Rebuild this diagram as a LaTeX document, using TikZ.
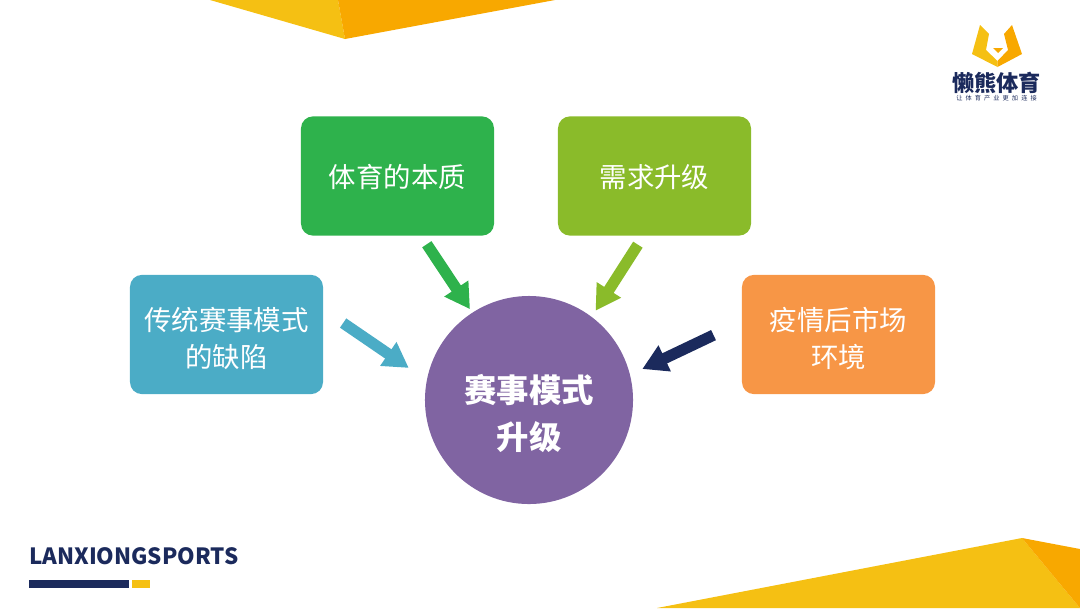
\documentclass[tikz,border=0pt]{standalone}
\usepackage{fontspec}
\setmainfont{Noto Sans CJK SC}
\usetikzlibrary{arrows.meta}
\definecolor{navyc}{HTML}{1B2A5C}
\definecolor{yellowc}{HTML}{F5C013}
\definecolor{amberc}{HTML}{F8A800}
\definecolor{greenc}{HTML}{2EB24C}
\definecolor{olivec}{HTML}{8ABB2A}
\definecolor{bluec}{HTML}{4BACC6}
\definecolor{orangec}{HTML}{F79646}
\definecolor{purplec}{HTML}{8064A2}
\tikzset{
  topicbox/.style={rounded corners=0.3cm,minimum width=4.825cm,minimum height=2.98cm,
    text width=4.4cm,align=center,text=white,font=\fontsize{19.5}{26.3}\selectfont},
  flowarrow/.style={line width=0.28cm,-{Triangle[length=0.62cm,width=0.68cm]}},
}
\begin{document}
\begin{tikzpicture}[x=0.025cm,y=-0.025cm]
\useasboundingbox (0,0) rectangle (1080,608);
% corner shapes
\fill[yellowc] (210,0) -- (345,39) -- (338,0) -- cycle;
\fill[amberc] (338,0) -- (345,39) -- (555,0) -- cycle;
\fill[yellowc] (657,608) -- (1022,538) -- (1080,608) -- cycle;
\fill[amberc] (1022,538) -- (1080,549) -- (1080,608) -- cycle;
% boxes and hub
\node[topicbox,fill=greenc,text height=17.5pt] (essence) at (397.5,176) {体育的本质};
\node[topicbox,fill=olivec,text height=17.5pt] (demand) at (654.5,176) {需求升级};
\node[topicbox,fill=bluec,text height=22pt] (flaws) at (226.5,334.5) {传统赛事模式\\的缺陷};
\node[topicbox,fill=orangec,text height=22pt] (market) at (838.5,334.5) {疫情后市场\\环境};
\node[circle,fill=purplec,minimum size=5.2cm,inner sep=0pt,align=center,text=white,text height=72.5pt,
  font=\fontsize{23}{33}\selectfont\bfseries] (hub) at (529,400) {赛事模式\\升级};
% arrows
\draw[flowarrow,greenc,shorten <=0.25cm,shorten >=0.1cm] (essence.south) +(23.8,0) -- (hub.123.7);
\draw[flowarrow,olivec,shorten <=0.26cm,shorten >=0.175cm] (demand.south) +(-11,0) -- (hub.53.8);
\draw[flowarrow,bluec,shorten <=0.6cm,shorten >=0.54cm] (flaws.east) +(0,-25) -- (hub.169);
\draw[flowarrow,navyc,shorten <=0.78cm,shorten >=0.335cm] (market.west) +(0,-12.8) -- (hub.14.9);
% footer
\node[anchor=west,inner sep=0pt,text=navyc,font=\fontsize{15.9}{18}\selectfont\bfseries] (brand) at (29,556) {LANXIONGSPORTS};
\fill[navyc] (29,580) rectangle (129,588);
\fill[yellowc] (132,580) rectangle (150,588);
% logo
\fill[yellowc] (980,25) -- (972,54) -- (997.5,67) -- (997.5,61) -- (986,50) -- (989,34) -- cycle;
\fill[amberc] (1012,25) -- (1022,54) -- (997.5,67) -- (997.5,61) -- (1008,50) -- (1004,34) -- cycle;
\fill[amberc] (993,48) -- (1003,48) -- (998,53) -- cycle;
\node[inner sep=0pt,text=navyc,font=\fontsize{15.8}{18}\selectfont\bfseries] (logoname) at (996.5,83) {懒熊体育};
\node[inner sep=0pt,text=navyc,font=\fontsize{4.4}{5}\selectfont] (logoline) at (996.5,98) {让\enspace 体\enspace 育\enspace 产\enspace 业\enspace 更\enspace 加\enspace 连\enspace 接};
\end{tikzpicture}
\end{document}
